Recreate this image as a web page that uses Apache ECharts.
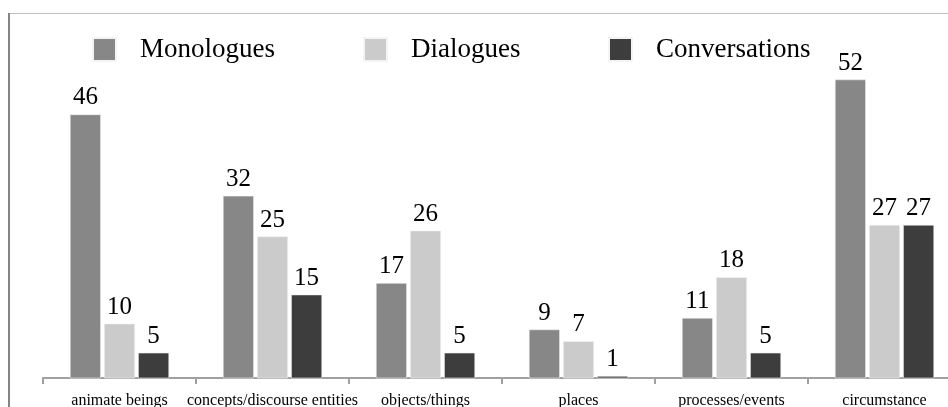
<!DOCTYPE html>
<html>
<head>
<meta charset="utf-8">
<script src="https://cdn.jsdelivr.net/npm/echarts@6/dist/echarts.min.js"></script>
<style>
  html, body { margin: 0; padding: 0; background: #fff; }
  #chart { width: 948px; height: 407px; }
</style>
</head>
<body>
<div id="chart"></div>
<script>
// Referent types per text genre
const categories = ['animate beings', 'concepts/discourse entities', 'objects/things', 'places', 'processes/events', 'circumstance'];
const monologues = [46, 32, 17, 9, 11, 52];
const dialogues = [10, 25, 26, 7, 18, 27];
const conversations = [5, 15, 5, 1, 5, 27];

const serif = '"Liberation Serif", "Times New Roman", serif';

function barSeries(name, data, color) {
  return {
    name: name,
    type: 'bar',
    data: data,
    barWidth: 31,
    barGap: '10%',
    itemStyle: { color: color, borderColor: '#f4f4f4', borderWidth: 0.6 },
    label: {
      show: true,
      position: 'top',
      distance: 4,
      color: '#000',
      fontFamily: serif,
      fontSize: 25
    }
  };
}

function legendAt(name, left) {
  return {
    data: [name],
    left: left,
    top: 36,
    padding: 0,
    icon: 'rect',
    itemWidth: 23,
    itemHeight: 23,
    selectedMode: false,
    textStyle: {
      color: '#000',
      fontFamily: serif,
      fontSize: 27,
      padding: [0, 0, 0, 19]
    }
  };
}

const chart = echarts.init(document.getElementById('chart'));
chart.setOption({
  animation: false,
  backgroundColor: '#fff',
  legend: [
    legendAt('Monologues', 92),
    legendAt('Dialogues', 363),
    legendAt('Conversations', 608)
  ],
  // the plot runs past the right edge of the canvas; labels may be clipped at the bottom
  grid: { left: 43, width: 918, top: 33, bottom: 29, containLabel: false, outerBoundsMode: 'none' },
  xAxis: {
    type: 'category',
    data: categories,
    axisLine: { show: true, lineStyle: { color: '#a0a0a0', width: 2 } },
    axisTick: { show: true, alignWithLabel: false, length: 6, lineStyle: { color: '#a0a0a0', width: 2 } },
    axisLabel: {
      interval: 0,
      margin: 15,
      color: '#000',
      fontFamily: serif,
      fontSize: 16
    }
  },
  yAxis: {
    type: 'value',
    min: 0.65,
    max: 60,
    show: false,
    splitLine: { show: false }
  },
  series: [
    barSeries('Monologues', monologues, '#878787'),
    barSeries('Dialogues', dialogues, '#cbcbcb'),
    barSeries('Conversations', conversations, '#3d3d3d')
  ],
  graphic: [
    { type: 'line', shape: { x1: 8, y1: 13.5, x2: 948, y2: 13.5 }, style: { stroke: '#c0c0c0', lineWidth: 1 }, silent: true },
    { type: 'line', shape: { x1: 9, y1: 13, x2: 9, y2: 407 }, style: { stroke: '#858585', lineWidth: 2 }, silent: true }
  ]
});
</script>
</body>
</html>
